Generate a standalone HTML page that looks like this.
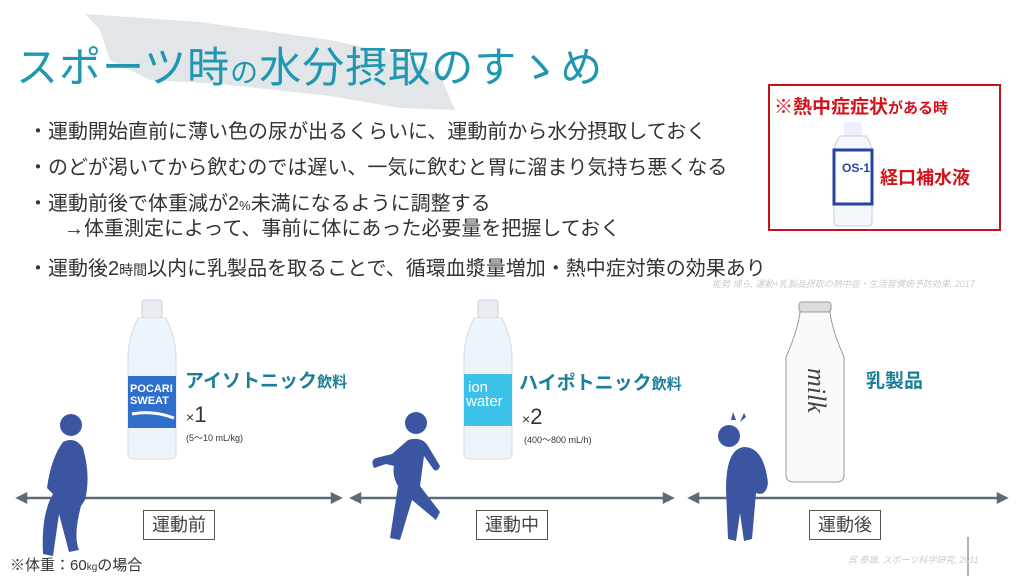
<!DOCTYPE html>
<html><head><meta charset="utf-8"><style>
body{margin:0;width:1024px;height:576px;background:#fff;position:relative;overflow:hidden;font-family:"Liberation Sans","Noto Sans CJK JP",sans-serif;color:#333}
.a{position:absolute;white-space:nowrap}
.t{font-size:20px;color:#333}
.lb{position:absolute;border:1.5px solid #555;font-size:18px;color:#444;text-align:center;line-height:28px;width:70px;height:28px}
</style></head><body>
<svg class="a" style="left:0;top:0" width="1024" height="576">
<path d="M85 14 L200 22 L330 40 L400 55 L440 75 L455 110 L400 108 L330 96 L220 84 L150 80 L110 60 L100 30 Z" fill="#e2e6e8"/>
<g stroke="#5f6b73" stroke-width="2.5" fill="#5f6b73">
<line x1="22" y1="498" x2="336" y2="498"/><path d="M18 498 l8 -4 v8z M340 498 l-8 -4 v8z"/>
<line x1="356" y1="498" x2="668" y2="498"/><path d="M352 498 l8 -4 v8z M672 498 l-8 -4 v8z"/>
<line x1="694" y1="498" x2="1002" y2="498"/><path d="M690 498 l8 -4 v8z M1006 498 l-8 -4 v8z"/>
</g>
<line x1="968" y1="537" x2="968" y2="576" stroke="#666" stroke-width="1"/>
<g><rect x="142" y="300" width="20" height="18" rx="3" fill="#e8eef2" stroke="#ccd"/>
<path d="M138 318 h28 q10 20 10 40 v95 q0 6 -6 6 h-36 q-6 0 -6 -6 v-95 q0 -20 10 -40z" fill="#eef5fa" stroke="#d5dee5"/>
<rect x="128" y="376" width="48" height="52" fill="#2f6fcb"/>
<text x="130" y="392" font-size="11" fill="#fff" font-weight="bold">POCARI</text><text x="130" y="404" font-size="11" fill="#fff" font-weight="bold">SWEAT</text>
<path d="M132 414 q20 -4 42 4" stroke="#fff" stroke-width="3" fill="none"/></g>
<g><rect x="478" y="300" width="20" height="18" rx="3" fill="#e8eef2" stroke="#ccd"/>
<path d="M474 318 h28 q10 20 10 40 v95 q0 6 -6 6 h-36 q-6 0 -6 -6 v-95 q0 -20 10 -40z" fill="#eef5fa" stroke="#d5dee5"/>
<rect x="464" y="374" width="48" height="52" fill="#3cc2e8"/>
<text x="468" y="392" font-size="15" fill="#fff">ion</text><text x="466" y="406" font-size="15" fill="#fff">water</text></g>
<g><rect x="799" y="302" width="32" height="10" rx="3" fill="#ddd" stroke="#999"/>
<path d="M800 312 h30 q2 18 14 45 v118 q0 7 -8 7 h-42 q-8 0 -8 -7 v-118 q12 -27 14 -45z" fill="#fafafa" stroke="#999"/>
<text x="0" y="0" font-size="26" font-family="Liberation Serif" font-style="italic" fill="#444" transform="translate(808 368) rotate(90)">milk</text></g>
<g><rect x="844" y="122" width="18" height="14" rx="3" fill="#eef"/>
<path d="M840 136 h26 q6 8 6 16 v70 q0 4 -4 4 h-30 q-4 0 -4 -4 v-70 q0 -8 6 -16z" fill="#f4f7fb" stroke="#ccd"/>
<rect x="834" y="150" width="38" height="54" fill="#fff" stroke="#2545a0" stroke-width="3"/>
<text x="842" y="172" font-size="12" font-weight="bold" fill="#2545a0">OS-1</text></g>
<g fill="#3b55a0">
<circle cx="71" cy="425" r="11"/>
<path d="M63 442 q12 -6 20 6 q8 28 2 52 l-4 6 q-8 30 -2 44 l-10 2 l-10 -38 l-6 42 l-10 -2 q-2 -40 10 -60 l-6 -6 q4 -30 16 -46z"/>
<circle cx="416" cy="423" r="11"/>
<path d="M408 440 q14 -4 20 6 l12 20 q-2 6 -6 4 l-10 -14 l-4 30 l20 26 l-4 8 l-24 -20 l-12 40 l-10 -2 l8 -52 q-6 -10 -4 -20 l-8 -2 l-12 4 q-4 -8 2 -10 l16 -4z"/>
<circle cx="729" cy="436" r="11"/>
<path d="M744 447 q20 0 24 36 q-2 14 -12 10 l-4 46 l-8 2 l-4 -28 l-4 28 l-8 -2 l-2 -50 q0 -40 18 -42z"/>
<path d="M731 420 l2 -8 l3 8z M740 422 l4 -9 l2 4z"/>
</g>
</svg>
<div class="a" style="left:16px;top:34px;font-size:42px;color:#1f97b0;letter-spacing:1px">スポーツ時<span style="font-size:28px">の</span>水分摂取のすゝめ</div>
<div class="a t" style="left:28px;top:115px">・運動開始直前に薄い色の尿が出るくらいに、運動前から水分摂取しておく</div>
<div class="a t" style="left:28px;top:151px">・のどが渇いてから飲むのでは遅い、一気に飲むと胃に溜まり気持ち悪くなる</div>
<div class="a t" style="left:28px;top:187px">・運動前後で体重減が2<span style="font-size:13px">%</span>未満になるように調整する</div>
<div class="a t" style="left:64px;top:212px">→体重測定によって、事前に体にあった必要量を把握しておく</div>
<div class="a t" style="left:28px;top:252px">・運動後2<span style="font-size:14px">時間</span>以内に乳製品を取ることで、循環血漿量増加・熱中症対策の効果あり</div>
<div class="a" style="left:712px;top:277px;font-size:9px;color:#ccc;font-style:italic">能勢 博ら, 運動+乳製品摂取の熱中症・生活習慣病予防効果, 2017</div>
<div class="a" style="left:768px;top:84px;width:229px;height:143px;border:2.5px solid #c8101a"></div>
<div class="a" style="left:774px;top:92px;font-size:19px;color:#d0141c;font-weight:bold">※熱中症症状<span style="font-size:15px">がある時</span></div>
<div class="a" style="left:880px;top:164px;font-size:18px;color:#d0141c;font-weight:bold">経口補水液</div>
<div class="a" style="left:185px;top:366px;font-size:19px;color:#1c7f99;font-weight:bold">アイソトニック<span style="font-size:15px">飲料</span></div>
<div class="a" style="left:519px;top:368px;font-size:19px;color:#1c7f99;font-weight:bold">ハイポトニック<span style="font-size:15px">飲料</span></div>
<div class="a" style="left:866px;top:366px;font-size:19px;color:#1c7f99;font-weight:bold">乳製品</div>
<div class="a" style="left:186px;top:402px;font-size:22px;color:#333"><span style="font-size:14px">×</span>1</div>
<div class="a" style="left:186px;top:431px;font-size:9px;color:#333">(5～10 mL/kg)</div>
<div class="a" style="left:522px;top:404px;font-size:22px;color:#333"><span style="font-size:14px">×</span>2</div>
<div class="a" style="left:524px;top:433px;font-size:9px;color:#333">(400～800 mL/h)</div>
<div class="lb" style="left:143px;top:510px">運動前</div>
<div class="lb" style="left:476px;top:510px">運動中</div>
<div class="lb" style="left:809px;top:510px">運動後</div>
<div class="a" style="left:10px;top:554px;font-size:15px;color:#333">※体重：60<span style="font-size:10px">kg</span>の場合</div>
<div class="a" style="left:848px;top:553px;font-size:9px;color:#ccc;font-style:italic">呉 泰雄, スポーツ科学研究, 2011</div>
</body></html>
